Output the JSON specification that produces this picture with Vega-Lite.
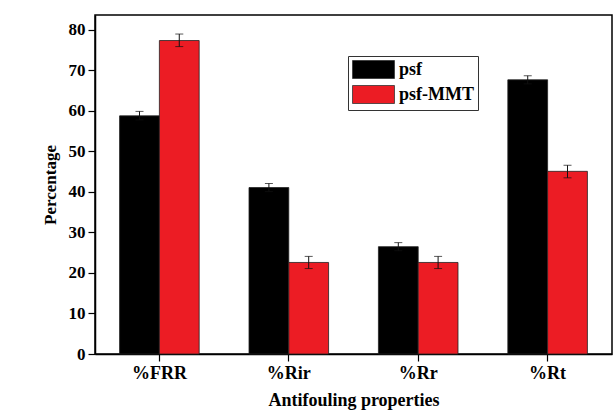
{
  "$schema": "https://vega.github.io/schema/vega-lite/v6.json",
  "width": 517,
  "height": 339,
  "autosize": {"type": "none"},
  "padding": {"left": 95, "top": 15, "right": 3, "bottom": 57},
  "background": "white",
  "config": {
    "view": {"stroke": "black", "strokeWidth": 1.5},
    "font": "'Liberation Serif', 'Times New Roman', serif",
    "axis": {
      "labelFont": "'Liberation Serif', 'Times New Roman', serif",
      "labelFontWeight": "bold",
      "labelColor": "black",
      "titleFont": "'Liberation Serif', 'Times New Roman', serif",
      "titleFontWeight": "bold",
      "titleColor": "black",
      "domainColor": "black",
      "domainWidth": 1.5,
      "tickColor": "black",
      "tickWidth": 1.2,
      "tickSize": 7,
      "grid": false
    }
  },
  "data": {
    "values": [
      {"property": "%FRR", "membrane": "psf", "value": 58.8, "lo": 57.8, "hi": 59.9},
      {"property": "%FRR", "membrane": "psf-MMT", "value": 77.4, "lo": 75.9, "hi": 79.0},
      {"property": "%Rir", "membrane": "psf", "value": 41.1, "lo": 40.1, "hi": 42.1},
      {"property": "%Rir", "membrane": "psf-MMT", "value": 22.6, "lo": 21.1, "hi": 24.1},
      {"property": "%Rr", "membrane": "psf", "value": 26.5, "lo": 25.5, "hi": 27.5},
      {"property": "%Rr", "membrane": "psf-MMT", "value": 22.6, "lo": 21.1, "hi": 24.1},
      {"property": "%Rt", "membrane": "psf", "value": 67.7, "lo": 66.7, "hi": 68.7},
      {"property": "%Rt", "membrane": "psf-MMT", "value": 45.1, "lo": 43.5, "hi": 46.6}
    ]
  },
  "encoding": {
    "x": {
      "field": "property",
      "type": "nominal",
      "sort": ["%FRR", "%Rir", "%Rr", "%Rt"],
      "scale": {"paddingInner": 0.385, "paddingOuter": 0.19},
      "axis": {
        "title": "Antifouling properties",
        "titleFontSize": 18,
        "titlePadding": 9,
        "labelFontSize": 18,
        "labelAngle": 0,
        "labelPadding": 3
      }
    },
    "xOffset": {
      "field": "membrane",
      "type": "nominal",
      "sort": ["psf", "psf-MMT"],
      "scale": {"paddingInner": 0, "paddingOuter": 0}
    }
  },
  "layer": [
    {
      "mark": {"type": "bar", "stroke": "#222222", "strokeWidth": 0.8},
      "encoding": {
        "y": {
          "field": "value",
          "type": "quantitative",
          "scale": {"domain": [0, 83.7], "nice": false},
          "axis": {
            "title": "Percentage",
            "titleFontSize": 17,
            "titlePadding": 9,
            "labelFontSize": 17,
            "labelPadding": 3,
            "values": [0, 10, 20, 30, 40, 50, 60, 70, 80]
          }
        },
        "color": {
          "field": "membrane",
          "type": "nominal",
          "scale": {"domain": ["psf", "psf-MMT"], "range": ["#000000", "#ec1c24"]},
          "legend": {
            "title": null,
            "orient": "none",
            "legendX": 253,
            "legendY": 41,
            "symbolType": "M-2.33,-1H2.33V1H-2.33Z",
            "symbolSize": 324,
            "symbolStrokeColor": "#333333",
            "symbolStrokeWidth": 0.8,
            "symbolOffset": 12,
            "labelOffset": 16,
            "labelFont": "'Liberation Serif', 'Times New Roman', serif",
            "labelFontWeight": "bold",
            "labelFontSize": 18,
            "labelColor": "black",
            "rowPadding": 2,
            "padding": 4,
            "strokeColor": "#333333",
            "fillColor": "white"
          }
        }
      }
    },
    {
      "mark": {"type": "rule", "color": "#111111", "strokeWidth": 1},
      "encoding": {
        "y": {"field": "lo", "type": "quantitative"},
        "y2": {"field": "hi"}
      }
    },
    {
      "mark": {"type": "tick", "color": "#111111", "size": 8, "thickness": 1},
      "encoding": {
        "y": {"field": "lo", "type": "quantitative"}
      }
    },
    {
      "mark": {"type": "tick", "color": "#111111", "size": 8, "thickness": 1},
      "encoding": {
        "y": {"field": "hi", "type": "quantitative"}
      }
    }
  ]
}
